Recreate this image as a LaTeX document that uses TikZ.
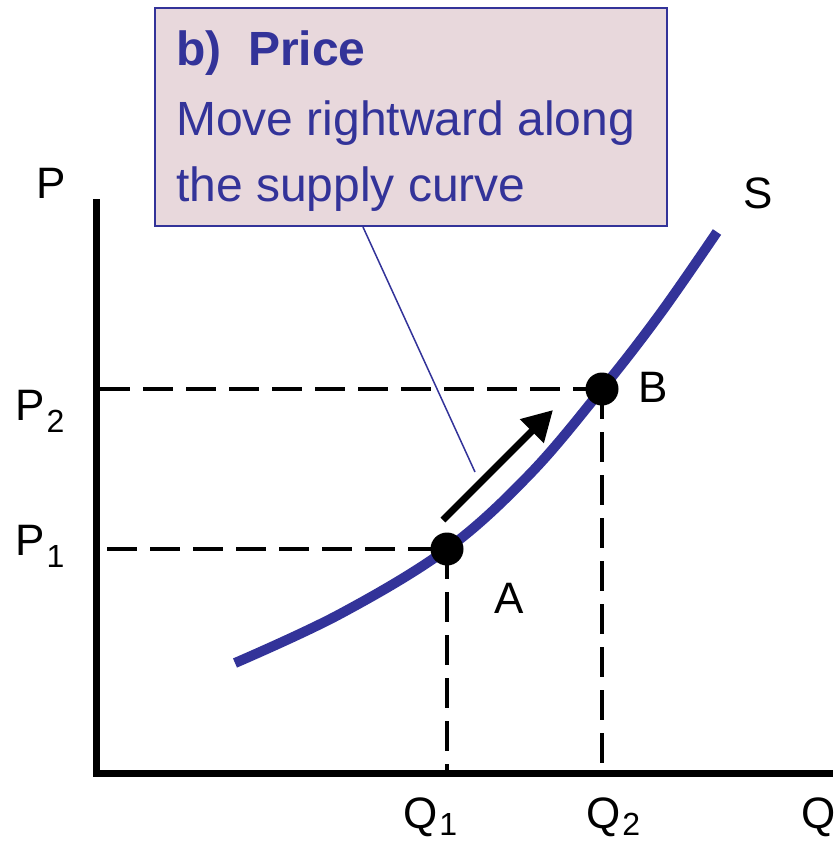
\documentclass[tikz,border=0pt]{standalone}
\usepackage{fontspec}
\setmainfont{Liberation Sans}
\usetikzlibrary{arrows.meta}
\definecolor{sblue}{HTML}{333399}
\definecolor{pinkfill}{HTML}{E8D8DC}
\tikzset{
  axisline/.style={line width=7pt, line cap=rect},
  guide/.style={line width=3.5pt, dash pattern=on 30pt off 13pt},
  dotpt/.style={circle, fill=black, inner sep=0pt, minimum size=33pt},
  lbl/.style={inner sep=0pt, anchor=base west, font=\fontsize{44}{44}\selectfont},
  boxtxt/.style={inner sep=0pt, anchor=base west, text=sblue, font=\fontsize{48}{48}\selectfont},
}
\newcommand{\subs}[2][-12pt]{\kern2pt\raisebox{#1}{\fontsize{32}{32}\selectfont #2}}
\begin{document}
\begin{tikzpicture}[x=1pt,y=-1pt]
\useasboundingbox (0,0) rectangle (840,844);
% axes
\coordinate (O) at (96,773);
\coordinate (Ytop) at (96,202);
\coordinate (Xend) at (829,773);
\draw[axisline] (Ytop) -- (O) -- (Xend);
% supply curve
\draw[sblue, line width=10pt]
  plot[smooth, tension=0.6] coordinates {(235,663) (340,614) (447,549) (530,474) (602,389) (660,314) (717,232)};
% points
\coordinate (Ac) at (447,549);
\coordinate (Bc) at (602,389);
\coordinate (P1s) at (107,549);
\coordinate (P2s) at (100,389);
\coordinate (Q1e) at (447,770);
\coordinate (Q2e) at (602,770);
\draw[guide] (P1s) -- (Ac);
\draw[guide] (P2s) -- (Bc);
\draw[guide] (Ac) -- (Q1e);
\draw[guide] (Bc) -- (Q2e);
\node[dotpt] (A) at (Ac) {};
\node[dotpt] (B) at (Bc) {};
% movement arrow
\coordinate (ms) at (443,520);
\coordinate (me) at (553,410);
\draw[line width=7pt, -{Triangle[length=30pt,width=32pt]}] (ms) -- (me);
% callout box
\node[draw=sblue, line width=2pt, fill=pinkfill, minimum width=512pt, minimum height=218pt, inner sep=0pt] (box) at (411,117) {};
\node[boxtxt, font=\fontsize{48}{48}\selectfont\bfseries] (t1) at (176,65) {b)\ \ Price};
\node[boxtxt] (t2) at (176,135) {Move rightward along};
\node[boxtxt] (t3) at (176,201) {the supply curve};
\coordinate (pl1) at (363,227);
\coordinate (pl2) at (475,472);
\draw[sblue, line width=1.5pt] (pl1) -- (pl2);
% labels
\node[lbl] (Plab) at (36,198) {P};
\node[lbl] (Slab) at (743,208) {S};
\node[lbl] (P2lab) at (15,420) {P\subs{2}};
\node[lbl] (P1lab) at (15,555) {P\subs{1}};
\node[lbl] (Alab) at (494,613) {A};
\node[lbl] (Blab) at (638,402) {B};
\node[lbl] (Q1lab) at (403,828) {Q\subs[-7pt]{1}};
\node[lbl] (Q2lab) at (586,828) {Q\subs[-7pt]{2}};
\node[lbl] (Qlab) at (801,828) {Q};
\end{tikzpicture}
\end{document}
